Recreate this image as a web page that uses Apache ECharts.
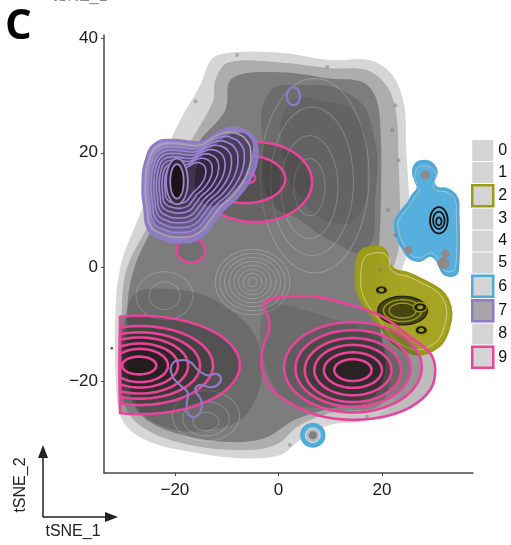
<!DOCTYPE html>
<html>
<head>
<meta charset="utf-8">
<script src="https://cdn.jsdelivr.net/npm/echarts@6/dist/echarts.min.js"></script>
<style>
  html, body { margin: 0; padding: 0; background: #fff; }
  #chart { width: 511px; height: 545px; }
</style>
</head>
<body>
<div id="chart"></div>
<script>
// ---- axis ticks and cluster ids ----
const xTicks = [-20, 0, 20];
const yTicks = [-20, 0, 20, 40];
const clusterIds = ['0', '1', '2', '3', '4', '5', '6', '7', '8', '9'];

// ---- grey clusters: density hulls in tSNE space ----
const cluster0Hull = [[-15.1,31.8],[-12.8,36.5],[-8.4,37.6],[1.3,37.4],[10.0,36.2],[17.7,36.2],[22.0,33.6],[24.3,28.3],[24.7,20.5],[25.3,11.7],[25.5,4.7],[23.5,-1.4],[21.5,-6.5],[22.5,-12.0],[23.5,-18.0],[22.5,-23.0],[17.7,-26.7],[10.0,-27.6],[4.2,-30.2],[0.3,-32.9],[-7.4,-33.4],[-17.1,-32.3],[-25.8,-30.2],[-30.2,-26.7],[-31.4,-19.8],[-31.4,-5.8],[-30.2,1.2],[-26.8,9.1],[-22.9,17.8],[-19.0,25.7]];
const cluster1Hull = [[-12.2,32.7],[-9.7,35.8],[0.3,35.8],[10.0,34.8],[17.3,34.4],[21.2,31.3],[22.8,26.6],[23.2,18.7],[23.5,10.0],[23.2,3.0],[20.6,-4.1],[19.7,-11.0],[21.6,-18.0],[19.7,-24.1],[11.0,-25.3],[4.2,-27.6],[-0.6,-31.1],[-7.4,-32.0],[-17.1,-31.1],[-24.8,-28.8],[-29.1,-25.3],[-30.2,-19.8],[-30.2,-5.8],[-29.1,0.3],[-25.2,7.3],[-20.9,16.1],[-15.1,24.8],[-12.6,29.2]];
const cluster3Hull = [[-9.0,33.0],[0.3,34.1],[10.0,33.0],[16.4,32.3],[19.0,29.2],[19.8,22.2],[19.8,11.7],[19.4,3.0],[18.7,-4.0],[19.7,-11.0],[20.6,-18.0],[17.7,-23.3],[10.0,-24.7],[3.2,-26.7],[-2.6,-29.9],[-9.3,-30.6],[-18.0,-29.5],[-24.8,-27.1],[-28.3,-23.3],[-29.1,-16.3],[-29.1,-5.8],[-27.7,0.3],[-24.4,6.8],[-20.0,15.2],[-15.1,22.2],[-10.3,27.4]];
const cluster4Dense = [[-2.0,30.2],[4.2,31.8],[13.9,30.1],[18.2,24.0],[18.7,11.7],[16.8,3.0],[10.0,4.7],[4.2,8.2],[-1.6,11.7],[-3.0,20.5]];
const cluster4Inner = [[2.0,28.5],[9.0,29.0],[15.5,26.0],[17.0,18.0],[15.5,9.0],[10.0,8.0],[4.5,12.0],[1.0,19.0]];
const cluster5DenseA = [[-28.7,-5.8],[-19.0,-4.0],[-9.3,-7.5],[-3.5,-14.5],[-5.5,-25.0],[-13.2,-28.5],[-22.9,-27.6],[-27.7,-23.3]];
const cluster5DenseB = [[-2.6,-7.5],[10.0,-8.9],[18.7,-12.8],[20.0,-19.8],[11.9,-24.1],[0.3,-22.4]];
// contour rings of cluster 8 (cx, cy, rx, ry)
const cluster8Rings = [[-5.0,-2.6,0.9,0.8],[-5.0,-2.6,1.8,1.5],[-5.0,-2.6,2.7,2.2],[-5.0,-2.6,3.6,2.9],[-5.0,-2.6,4.5,3.6],[-5.0,-2.6,5.4,4.3],[-5.0,-2.6,6.3,5.0],[-5.0,-2.6,7.2,5.7],
  [6,14,3,5],[6,14,5.5,9],[6.5,15,8,13],[7,16,10.5,17],
  [-14,-27,2.5,1.6],[-14,-26.5,4.5,3],[-14,-26,6.5,4.4],[-22,-5,3,2.4],[-22,-5,5.5,4.2]];
// scattered single cells in the light margins
const cellPoints = [[-8.0,37.1],[9.4,35.0],[22.6,28.3],[22.0,24.0],[23.2,18.7],[21.2,10.0],[22.6,5.6],[19.7,-0.5],[17.1,-26.2],[2.2,-31.1],[-16.0,29.0],[-24.0,16.0]];

// ---- cluster 2 (olive) ----
const cluster2Hull = [[16.2,3.0],[17.7,3.5],[19.7,3.5],[21.0,2.4],[21.2,0.7],[22.6,-0.5],[24.9,-1.0],[28.0,-2.3],[31.3,-4.0],[32.8,-5.8],[33.4,-8.0],[32.8,-11.0],[31.6,-13.3],[29.9,-14.5],[28.0,-15.2],[25.5,-15.0],[22.2,-13.3],[19.1,-9.6],[16.8,-7.0],[15.2,-4.0],[15.0,-0.5],[15.4,1.9]];
const cluster2Dense = [[24.0,-7.6,4.8,2.5],[24.0,-7.6,3.7,1.9],[24.0,-7.6,2.6,1.3]];
const cluster2Peaks = [[19.9,-4.0,1.2,0.75],[27.4,-7.0,1.3,0.8],[27.6,-11.0,1.2,0.8]];

// ---- cluster 6 (blue) ----
const cluster6Hull = [[25.1,11.2],[23.5,9.4],[22.6,7.9],[23.0,5.2],[24.1,3.3],[25.5,1.6],[27.4,1.2],[29.3,2.1],[30.7,1.2],[31.9,-1.0],[33.6,-1.4],[34.6,-0.5],[34.7,10.0],[34.4,12.2],[32.6,13.6],[30.7,13.8],[29.9,14.9],[30.5,16.6],[29.7,18.0],[28.2,18.5],[26.6,18.0],[26.1,16.6],[26.6,15.0],[27.0,13.8],[26.0,12.6]];
const cluster6Spots = [[28.4,16.1,0.9,0.8],[25.1,3.0,0.8,0.7],[31.9,0.7,1.2,1.0],[32.3,2.4,0.8,0.7]];
const cluster6Core = [[31.0,8.2,1.7,2.3],[31.0,8.2,1.1,1.5],[31.0,8.0,0.5,0.7]];
const cluster6Satellite = [[6.65,-29.4,2.2,1.95],[6.65,-29.4,1.4,1.25],[6.65,-29.4,0.8,0.7]];

// ---- cluster 7 (purple) ----
const cluster7Hull = [[-25.8,10.0],[-26.2,14.0],[-25.4,19.2],[-23.5,21.7],[-20.4,22.2],[-17.1,21.9],[-14.6,21.9],[-11.9,23.4],[-9.3,24.3],[-6.8,24.0],[-4.9,22.7],[-4.1,20.5],[-4.5,17.5],[-5.9,14.7],[-8.0,12.2],[-10.7,10.0],[-12.6,7.7],[-15.1,5.2],[-19.0,4.4],[-22.9,5.1],[-25.2,6.8]];
const cluster7Arm = [[-15.1,18.7],[-12.2,21.3],[-8.4,23.4],[-5.5,22.6],[-5.1,19.6],[-6.4,16.1],[-9.0,13.1],[-12.2,10.8],[-15.1,11.7],[-16.1,15.2]];
const cluster7Peak = [-19.6, 14.9];
const cluster7Levels = [0.92, 0.84, 0.76, 0.68, 0.60, 0.52, 0.44, 0.36];
const cluster7Core = [[-19.6,15.0,2.1,4.0],[-19.6,15.0,1.3,3.0]];
const cluster7Satellite = [[2.9,29.9,1.26,1.57]];
const cluster7Loop = [[-20.6,-17.1],[-19.0,-16.3],[-17.1,-16.6],[-15.5,-18.0],[-13.8,-18.9],[-11.9,-18.7],[-11.1,-19.4],[-11.7,-20.6],[-13.2,-21.0],[-15.1,-20.6],[-16.1,-21.5],[-15.1,-22.9],[-14.8,-24.5],[-16.1,-26.2],[-17.5,-25.5],[-17.7,-23.8],[-17.5,-22.0],[-19.0,-20.6],[-20.4,-19.2]];

// ---- cluster 9 (pink) ----
const cluster9LeftEdge = -30.6;
const cluster9LeftRings = [[-26.75,-17.1,19.3,8.6],[-26.75,-17.2,14.1,6.9],[-26.75,-17.2,11.6,5.8],[-26.75,-17.2,9.3,4.9],[-26.75,-17.2,7.35,3.85],[-26.75,-17.2,5.4,2.9],[-26.9,-17.2,3.3,1.55]];
const cluster9RightHull = [[-2.6,-6.1],[0.9,-5.2],[7.5,-5.2],[13.9,-6.6],[20.2,-8.7],[25.5,-12.2],[29.3,-15.0],[30.3,-18.0],[29.3,-21.5],[25.5,-24.5],[20.2,-26.2],[13.9,-26.7],[7.5,-25.9],[2.3,-23.8],[-1.6,-21.0],[-3.2,-17.5],[-3.0,-14.0],[-1.8,-11.0],[-2.0,-8.7],[-2.8,-7.0]];
const cluster9RightRings = [[14.4,-17.5,13.3,7.9],[14.4,-17.7,11.1,6.7],[14.4,-18.0,9.3,5.6],[14.4,-18.0,7.45,4.4],[14.4,-18.0,5.6,3.1],[14.4,-18.0,3.6,1.9]];
const cluster9UpperRings = [[-4.5,14.9,11.0,7.0],[-6.4,15.4,7.7,4.2],[-6.0,15.6,1.5,0.9]];
const cluster9Loop = [[-16.9,3.0,2.7,2.2]];

// single cells outside every density hull
const outlierPoints = [[-32.2,-14.2]];

// ---- colours ----
const PINK = '#e8449a', PURPLE = '#8e7bc6', BLUE = '#4ea9d9', OLIVE = '#9c9b16';
const FONT = '"Liberation Sans", Arial, sans-serif';

// ---- shape helpers ----
function poly(pts, style) { return Object.assign({ kind: 'poly', pts: pts, anchor: pts[0] }, style); }
function ell(e, style) { return Object.assign({ kind: 'ell', e: e, anchor: [e[0], e[1]] }, style); }
function scaled(pts, c, f) { return pts.map(p => [c[0] + f * (p[0] - c[0]), c[1] + f * (p[1] - c[1])]); }

function toPixels(s, api) {
  if (s.kind === 'poly') return s.pts.map(p => api.coord(p));
  const c = api.coord([s.e[0], s.e[1]]);
  const sz = api.size([s.e[2], s.e[3]]);
  const cut = s.cutX != null ? api.coord([s.cutX, 0])[0] : -Infinity;
  const out = [];
  const n = 120;
  for (let k = 0; k < n; k++) {
    const t = k / n * Math.PI * 2;
    out.push([Math.max(cut, c[0] + sz[0] * Math.cos(t)), c[1] - sz[1] * Math.sin(t)]);
  }
  return out;
}

function clusterSeries(name, shapes) {
  return {
    type: 'custom', name: name, coordinateSystem: 'cartesian2d',
    silent: true, animation: false,
    data: shapes.map((s, i) => [s.anchor[0], s.anchor[1], i]),
    encode: { x: 0, y: 1 },
    renderItem: function (params, api) {
      const s = shapes[api.value(2)];
      return {
        type: 'polygon',
        shape: { points: toPixels(s, api), smooth: s.smooth || 0 },
        style: { fill: s.fill || 'none', stroke: s.stroke || 'none', lineWidth: s.lw || 0 }
      };
    }
  };
}

// grey density layers
const s9Under = [poly(cluster9RightHull, { fill: '#c9c9c9', smooth: 0.35 })];
const s0 = [poly(cluster0Hull, { fill: '#d6d6d6', smooth: 0.35 })];
const s1 = [poly(cluster1Hull, { fill: '#adadad', smooth: 0.35 })];
const s3 = [poly(cluster3Hull, { fill: '#7d7d7d', smooth: 0.35 })];
const s4 = [poly(cluster4Dense, { fill: 'rgba(50,50,50,0.22)', smooth: 0.5 }),
            poly(cluster4Inner, { fill: 'rgba(50,50,50,0.14)', smooth: 0.5 })];
const s5 = [poly(cluster5DenseA, { fill: 'rgba(55,55,55,0.25)', smooth: 0.4 }),
            poly(cluster5DenseB, { fill: 'rgba(60,60,60,0.18)', smooth: 0.4 })];
const s8 = cluster8Rings.map(r => ell(r, { stroke: 'rgba(255,255,255,0.2)', lw: 1.1 }));

// blue
const s6 = [poly(cluster6Hull, { fill: '#56afdc', stroke: BLUE, lw: 3, smooth: 0.4 }),
            poly(scaled(cluster6Hull, [30.0, 7.5], 0.93), { stroke: 'rgba(200,200,200,0.7)', lw: 1, smooth: 0.4 })]
  .concat(cluster6Spots.map(r => ell(r, { fill: '#8f8a8a' })))
  .concat(cluster6Core.map((r, i) => ell(r, { fill: i === 2 ? '#56afdc' : 'none', stroke: '#111', lw: 1.8 })))
  .concat(cluster6Satellite.map((r, i) => ell(r, {
    fill: ['#56afdc', '#b9b9b9', '#7f7f7f'][i],
    stroke: [BLUE, 'rgba(255,255,255,0.8)', 'none'][i], lw: [2.5, 1, 0][i] })));

// olive
const s2 = [poly(cluster2Hull, { fill: 'rgba(160,159,24,0.95)', stroke: OLIVE, lw: 2.5, smooth: 0.4 }),
            poly(scaled(cluster2Hull, [24.5, -7.0], 0.9), { stroke: 'rgba(235,235,200,0.6)', lw: 1, smooth: 0.4 })]
  .concat(cluster2Dense.map((r, i) => ell(r, { fill: i === 0 ? 'rgba(35,33,12,0.72)' : 'none', stroke: i === 0 ? 'rgba(20,20,5,0.8)' : OLIVE, lw: 1.4 })))
  .concat(cluster2Peaks.map(r => ell(r, { fill: '#1e1d08', stroke: OLIVE, lw: 1.5 })))
  .concat(cluster2Peaks.map(r => ell([r[0], r[1], r[2] * 0.45, r[3] * 0.45], { fill: OLIVE })));

// pink
const s9 = []
  .concat(cluster9UpperRings.map(r => ell(r, { fill: 'rgba(30,22,22,0.24)', stroke: PINK, lw: 2.6 })))
  .concat(cluster9Loop.map(r => ell(r, { fill: 'rgba(60,60,60,0.2)', stroke: PINK, lw: 2.6 })))
  .concat(cluster9LeftRings.map((r, i) => ell(r, { cutX: cluster9LeftEdge, fill: i === 0 ? 'rgba(40,35,35,0.35)' : 'rgba(25,15,15,0.22)', stroke: PINK, lw: 2.6 })))
  .concat([poly(cluster9RightHull, { fill: 'rgba(60,55,55,0.08)', stroke: PINK, lw: 2.6, smooth: 0.35 })])
  .concat(cluster9RightRings.map((r, i) => ell(r, { fill: i === 0 ? 'rgba(60,55,55,0.3)' : 'rgba(25,15,15,0.22)', stroke: PINK, lw: 2.6 })));

// purple
const s7 = [poly(cluster7Hull, { fill: 'rgba(146,128,206,0.82)', stroke: PURPLE, lw: 3, smooth: 0.5 }),
            poly(cluster7Arm, { fill: 'rgba(40,30,38,0.5)', smooth: 0.5 })]
  .concat(cluster7Levels.map((f, i) => poly(scaled(cluster7Hull, cluster7Peak, f), {
    fill: 'rgba(35,22,32,0.14)', stroke: i === 0 ? '#a9a5ab' : '#9a88d2', lw: 1.6, smooth: 0.5 })))
  .concat(cluster7Core.map((r, i) => ell(r, { fill: i === 0 ? '#3a2a33' : '#1d1216', stroke: '#9a88d2', lw: 1.8 })))
  .concat(cluster7Satellite.map(r => ell(r, { fill: 'rgba(110,110,110,0.5)', stroke: PURPLE, lw: 2.4 })))
  .concat([poly(cluster7Loop, { stroke: PURPLE, lw: 2.2, smooth: 0.5 })]);

const legendStyle = {
  '0': { color: '#d4d4d4', borderWidth: 0 },
  '1': { color: '#d4d4d4', borderWidth: 0 },
  '2': { color: '#d4d4d4', borderColor: OLIVE, borderWidth: 2.5 },
  '3': { color: '#d4d4d4', borderWidth: 0 },
  '4': { color: '#d4d4d4', borderWidth: 0 },
  '5': { color: '#d4d4d4', borderWidth: 0 },
  '6': { color: '#d4d4d4', borderColor: BLUE, borderWidth: 2.5 },
  '7': { color: '#a7a5a7', borderColor: PURPLE, borderWidth: 2.5 },
  '8': { color: '#d4d4d4', borderWidth: 0 },
  '9': { color: '#d4d4d4', borderColor: PINK, borderWidth: 2.5 }
};

const minus = v => String(v).replace('-', '\u2212');

const chart = echarts.init(document.getElementById('chart'), null, { renderer: 'canvas' });
chart.setOption({
  animation: false,
  backgroundColor: '#fff',
  grid: { left: 104, right: 38, top: 35, bottom: 72, outerBoundsMode: 'none', containLabel: false },
  xAxis: {
    type: 'value', min: -33.7, max: 37.6,
    axisLine: { show: true, onZero: false, lineStyle: { color: '#4a4a4a', width: 1.5 } },
    axisTick: { show: true, customValues: xTicks, length: 3, lineStyle: { color: '#4a4a4a' } },
    axisLabel: { customValues: xTicks, formatter: minus, fontSize: 17, color: '#1a1a1a', fontFamily: FONT, margin: 9 },
    splitLine: { show: false }
  },
  yAxis: {
    type: 'value', min: -36, max: 40.6,
    axisLine: { show: true, onZero: false, lineStyle: { color: '#4a4a4a', width: 1.5 } },
    axisTick: { show: true, customValues: yTicks, length: 3, lineStyle: { color: '#4a4a4a' } },
    axisLabel: { customValues: yTicks, formatter: minus, fontSize: 17, color: '#1a1a1a', fontFamily: FONT, margin: 6 },
    splitLine: { show: false }
  },
  legend: {
    orient: 'vertical', left: 471, top: 140, padding: 0,
    itemWidth: 21, itemHeight: 21, itemGap: 1, icon: 'rect', selectedMode: false,
    textStyle: { fontSize: 16, color: '#111', fontFamily: FONT, padding: [0, 0, 0, 0] },
    data: clusterIds.map(id => ({ name: id, itemStyle: legendStyle[id] }))
  },
  graphic: [
    { type: 'text', x: 5, y: 27, style: { text: 'C', font: 'bold 42px "Open Sans", sans-serif', fill: '#000', textVerticalAlign: 'middle', verticalAlign: 'middle' } },
    { type: 'text', x: 80, y: -3, style: { text: 'tSNE_1', font: '16px ' + FONT, fill: '#8a8a8a', textAlign: 'center', align: 'center', textVerticalAlign: 'middle', verticalAlign: 'middle' } },
    { type: 'line', shape: { x1: 43, y1: 517, x2: 43, y2: 455 }, style: { stroke: '#222', lineWidth: 1.5 } },
    { type: 'polygon', shape: { points: [[43, 445], [38, 458], [48, 458]] }, style: { fill: '#222' } },
    { type: 'line', shape: { x1: 43, y1: 517, x2: 107, y2: 517 }, style: { stroke: '#222', lineWidth: 1.5 } },
    { type: 'polygon', shape: { points: [[118, 517], [105, 512], [105, 522]] }, style: { fill: '#222' } },
    { type: 'text', x: 21, y: 485, rotation: Math.PI / 2, style: { text: 'tSNE_2', font: '16px ' + FONT, fill: '#222', textAlign: 'center', align: 'center', textVerticalAlign: 'middle', verticalAlign: 'middle' } },
    { type: 'text', x: 73, y: 532, style: { text: 'tSNE_1', font: '16px ' + FONT, fill: '#222', textAlign: 'center', align: 'center', textVerticalAlign: 'middle', verticalAlign: 'middle' } }
  ],
  series: [
    clusterSeries('9', s9Under),
    clusterSeries('0', s0),
    clusterSeries('1', s1),
    clusterSeries('3', s3),
    clusterSeries('4', s4),
    clusterSeries('5', s5),
    clusterSeries('8', s8),
    { type: 'scatter', name: 'cells', data: cellPoints, symbolSize: 4, itemStyle: { color: 'rgba(110,110,110,0.55)' }, silent: true },
    clusterSeries('6', s6),
    clusterSeries('2', s2),
    clusterSeries('9', s9),
    clusterSeries('7', s7),
    { type: 'scatter', name: 'outliers', data: outlierPoints, symbolSize: 2.5, itemStyle: { color: '#222' }, silent: true }
  ]
});
</script>
</body>
</html>
